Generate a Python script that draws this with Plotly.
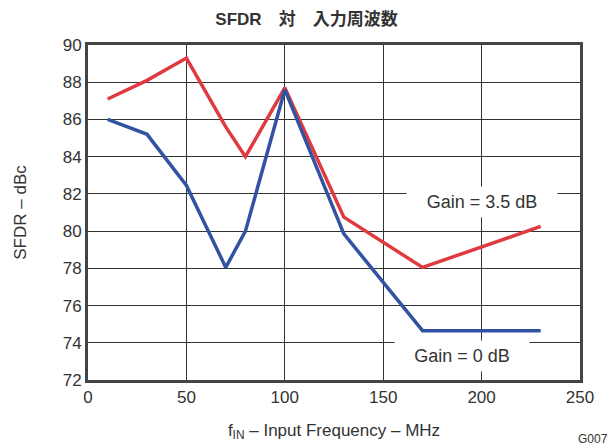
import plotly.graph_objects as go

# Input frequency (MHz) and measured SFDR (dBc)
freq_mhz = [10, 30, 50, 70, 80, 100, 130, 170, 230]
sfdr_gain_3p5 = [87.1, 88.1, 89.3, 85.6, 84.0, 87.7, 80.75, 78.05, 80.25]
sfdr_gain_0 = [86.0, 85.2, 82.45, 78.05, 80.0, 87.6, 79.85, 74.65, 74.65]

x_ticks = [0, 50, 100, 150, 200, 250]
y_ticks = [72, 74, 76, 78, 80, 82, 84, 86, 88, 90]

FONT = "Liberation Sans, Arial, Helvetica, sans-serif"
TEXT = "#333333"
GRID = "#333333"
RED = "#e0393f"
BLUE = "#3253a2"

fig = go.Figure()
fig.add_trace(go.Scatter(x=freq_mhz, y=sfdr_gain_3p5, mode="lines",
                         line=dict(color=RED, width=3.5), name="Gain = 3.5 dB"))
fig.add_trace(go.Scatter(x=freq_mhz, y=sfdr_gain_0, mode="lines",
                         line=dict(color=BLUE, width=3.5), name="Gain = 0 dB"))

# Curve labels on white boxes that hide the grid behind them
fig.add_annotation(x=200, y=81.55, text="Gain = 3.5 dB", showarrow=False,
                   font=dict(family=FONT, size=18, color=TEXT),
                   bgcolor="white", borderpad=5, width=140)
fig.add_annotation(x=190, y=73.3, text="Gain = 0 dB", showarrow=False,
                   font=dict(family=FONT, size=18, color=TEXT),
                   bgcolor="white", borderpad=5, width=124)

# Figure code in the lower right corner
fig.add_annotation(xref="paper", yref="paper", x=1.058, y=-0.176,
                   xanchor="right", yanchor="middle", text="G007", showarrow=False,
                   font=dict(family=FONT, size=12, color=TEXT), borderpad=0)

fig.update_layout(
    width=613, height=448,
    margin=dict(l=88, r=33, t=45, b=68),
    paper_bgcolor="white", plot_bgcolor="white",
    showlegend=False,
    title=dict(text="<b>SFDR　対　入力周波数</b>", x=0.5, xanchor="center",
               y=0.958, yanchor="middle",
               font=dict(family="Liberation Sans, Noto Sans CJK JP, sans-serif",
                         size=17, color=TEXT)),
    font=dict(family=FONT, size=17, color=TEXT),
)

fig.update_xaxes(
    range=[0, 250], tickvals=x_ticks, ticks="", showgrid=True,
    gridcolor=GRID, gridwidth=1, zeroline=False,
    showline=True, mirror=True, linecolor="#444444", linewidth=3,
    tickfont=dict(family=FONT, size=17, color=TEXT),
    title=dict(text="f<sub>IN</sub> – Input Frequency – MHz", standoff=18,
               font=dict(family=FONT, size=17, color=TEXT)),
)
fig.update_yaxes(
    range=[72, 90], tickvals=y_ticks, ticks="", showgrid=True,
    gridcolor=GRID, gridwidth=1, zeroline=False,
    showline=True, mirror=True, linecolor="#444444", linewidth=3,
    tickfont=dict(family=FONT, size=17, color=TEXT),
    title=dict(text="SFDR – dBc", standoff=32,
               font=dict(family=FONT, size=17, color=TEXT)),
)

fig.write_html("out.html")
